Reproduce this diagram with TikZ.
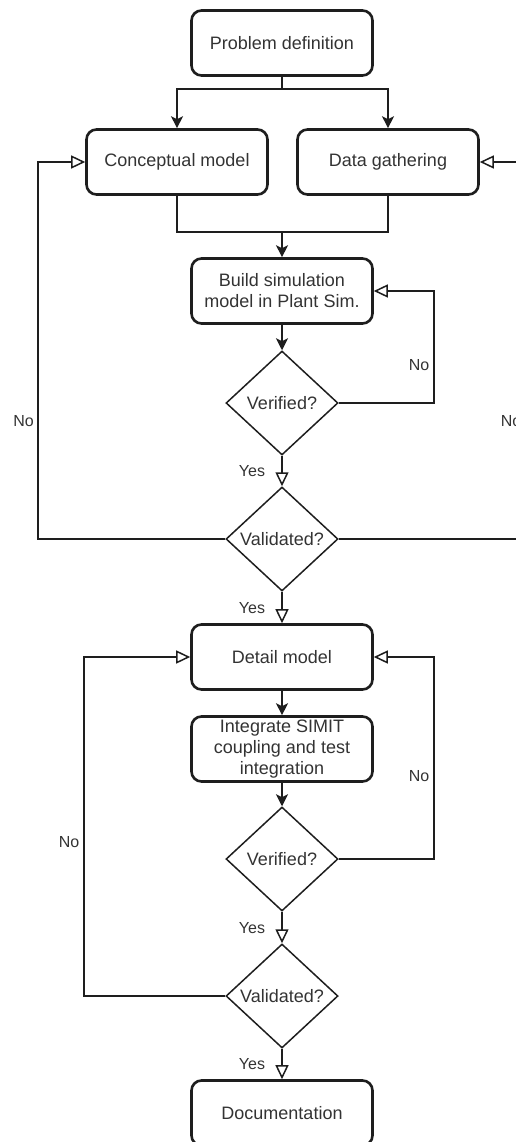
\documentclass[tikz,border=0pt]{standalone}
\usepackage{fontspec}
\setmainfont{Liberation Sans}
\usetikzlibrary{arrows.meta,shapes.geometric}
\definecolor{ink}{RGB}{30,30,30}
\definecolor{txt}{RGB}{51,51,51}
\begin{document}
\begin{tikzpicture}[x=1pt,y=-1pt,
  box/.style={draw=ink, line width=2.6pt, rounded corners=10pt, minimum width=181pt, minimum height=65pt,
    inner sep=0pt, align=center, text=txt, font=\fontsize{18}{21}\selectfont},
  dec/.style={draw=ink, diamond, line width=1.5pt, minimum width=112pt, minimum height=104pt,
    inner sep=0pt, text=txt, font=\fontsize{18}{21}\selectfont},
  lab/.style={inner sep=0pt, text=txt, font=\fontsize{16}{19}\selectfont},
  ln/.style={draw=ink, line width=1.5pt},
  fil/.style={ln, -{Stealth[length=12pt,width=12pt,inset=3pt]}},
  opn/.style={ln, -{Triangle[length=14pt,width=13pt,fill=white]}}]
\useasboundingbox (0,0) rectangle (516,1142);
\clip (0,0) rectangle (516,1142);

% nodes
\node[box] (pd) at (282,43) {Problem definition};
\node[box] (cm) at (177,162) {Conceptual model};
\node[box] (dg) at (388,162) {Data gathering};
\node[box] (bs) at (282,291) {Build simulation\\model in Plant Sim.};
\node[dec] (v1) at (282,403) {Verified?};
\node[dec] (va1) at (282,539) {Validated?};
\node[box] (dm) at (282,657) {Detail model};
\node[box] (ig) at (282,749) {Integrate SIMIT\\coupling and test\\integration};
\node[dec] (v2) at (282,859) {Verified?};
\node[dec] (va2) at (282,996) {Validated?};
\node[box] (doc) at (282,1113) {Documentation};

% helper coordinates
\coordinate (split) at (282,89);
\coordinate (merge) at (282,232);
\coordinate (r1) at (434,291);
\coordinate (l1) at (38,162);
\coordinate (rr) at (526,162);
\coordinate (r2) at (434,657);
\coordinate (l2) at (84,657);

% connectors
\draw[fil] (pd.south) -- (split) -| (cm.north);
\draw[fil] (split) -| (dg.north);
\draw[ln] (cm.south) |- (merge) -| (dg.south);
\draw[fil] (merge) -- (bs.north);
\draw[fil] (bs.south) -- (v1.north);
\draw[opn] (v1.south) -- (va1.north);
\draw[opn] (v1.east) -| (r1) -- (bs.east);
\draw[opn] (va1.west) -| (l1) -- (cm.west);
\draw[opn] (va1.east) -| (rr) -- (dg.east);
\draw[opn] (va1.south) -- (dm.north);
\draw[fil] (dm.south) -- (ig.north);
\draw[fil] (ig.south) -- (v2.north);
\draw[opn] (v2.east) -| (r2) -- (dm.east);
\draw[opn] (v2.south) -- (va2.north);
\draw[opn] (va2.west) -| (l2) -- (dm.west);
\draw[opn] (va2.south) -- (doc.north);

% labels
\node[lab] (y1) at (252,471) {Yes};
\node[lab] (y2) at (252,608) {Yes};
\node[lab] (y3) at (252,928) {Yes};
\node[lab] (y4) at (252,1064) {Yes};
\node[lab] (n1) at (419,365) {No};
\node[lab] (n2) at (23.5,421) {No};
\node[lab] (n3) at (511,421) {No};
\node[lab] (n4) at (419,776) {No};
\node[lab] (n5) at (69,842) {No};
\end{tikzpicture}
\end{document}
